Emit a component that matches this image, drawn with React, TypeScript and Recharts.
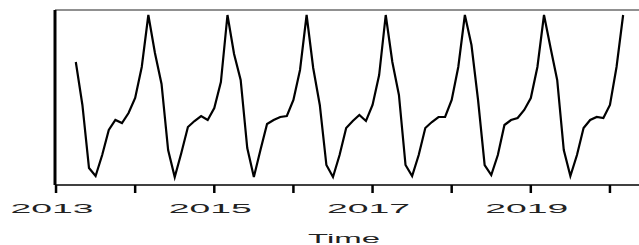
import { LineChart, Line, XAxis, YAxis, Label, ReferenceLine } from 'recharts'

// monthly series, Apr 2013 .. Mar 2020
const startYear = 2013
const startMonth = 3 // 0-based, April
const values = [
  123, 80, 17, 9, 30, 55, 65, 62, 72,
  87, 118, 170, 132, 101, 35, 8, 32, 58, 64, 69, 65,
  77, 103, 170, 131, 105, 37, 8, 35, 61, 65, 68, 69,
  85, 115, 170, 117, 80, 20, 8, 30, 57, 64, 70, 64,
  80, 110, 170, 123, 90, 20, 9, 30, 57, 63, 68, 68,
  85, 118, 170, 140, 85, 20, 10, 30, 60, 65, 67, 75,
  87, 118, 170, 137, 105, 35, 9, 30, 57, 65, 68, 67,
  80, 118, 170,
]
const tickYears = [2013, 2014, 2015, 2016, 2017, 2018, 2019, 2020]
const labeledYears = [2013, 2015, 2017, 2019]
const yMax = 175

const data = values.map((v, i) => ({ t: startYear + (startMonth + i) / 12, v }))

const font = '"Liberation Sans", Arial, sans-serif'

function YearTick({ x, y, payload }: any) {
  if (!labeledYears.includes(payload.value)) return <g />
  return (
    <text
      x={x - 4}
      y={y + 18}
      textAnchor="middle"
      textLength={83}
      lengthAdjust="spacingAndGlyphs"
      fill="#222"
      fontSize={12.5}
      fontFamily={font}
    >
      {payload.value}
    </text>
  )
}

function TimeLabel({ viewBox }: any) {
  const cx = viewBox.x + viewBox.width / 2 - 6
  return (
    <text
      x={cx}
      y={243}
      textAnchor="middle"
      textLength={72}
      lengthAdjust="spacingAndGlyphs"
      fill="#222"
      fontSize={12}
      fontFamily={font}
    >
      Time
    </text>
  )
}

export default function App() {
  return (
    <div style={{ position: 'absolute', left: 0, top: 0, width: 639, height: 245, overflow: 'hidden', background: '#fff' }}>
      <LineChart width={700} height={245} data={data} margin={{ top: 10, right: 55, bottom: 0, left: 0 }}>
        <XAxis
          type="number"
          dataKey="t"
          domain={[2012.987, 2020.443]}
          ticks={tickYears}
          interval={0}
          height={60}
          tickSize={8}
          tickMargin={2}
          tick={<YearTick />}
          tickLine={{ stroke: '#000', strokeWidth: 2.5 }}
          axisLine={{ stroke: '#000', strokeWidth: 1.5 }}
        >
          <Label content={<TimeLabel />} />
        </XAxis>
        <YAxis
          type="number"
          domain={[0, yMax]}
          width={55}
          tick={false}
          tickLine={false}
          axisLine={{ stroke: '#000', strokeWidth: 3 }}
        />
        <ReferenceLine y={yMax} stroke="#222" strokeWidth={1.2} />
        <Line
          type="linear"
          dataKey="v"
          stroke="#000"
          strokeWidth={2.2}
          dot={false}
          isAnimationActive={false}
        />
      </LineChart>
    </div>
  )
}
